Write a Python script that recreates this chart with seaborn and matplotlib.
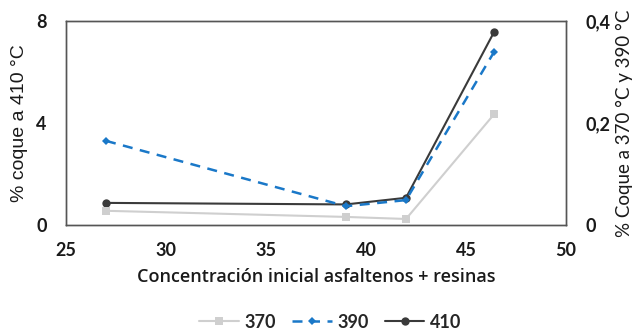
import matplotlib
matplotlib.use("Agg")
import matplotlib.pyplot as plt
import seaborn as sns
import pandas as pd
from matplotlib.ticker import FuncFormatter

sns.set_theme(style="white")
plt.rcParams["font.family"] = ["Lato", "DejaVu Sans"]

# Initial asphaltene + resin concentration
conc = [27, 39, 42, 46.4]
# Coke yield (%) per temperature
coke_370 = [0.028, 0.016, 0.012, 0.217]
coke_390 = [0.165, 0.037, 0.049, 0.339]
coke_410 = [0.87, 0.81, 1.07, 7.56]

left_ticks = [0, 4, 8]
right_ticks = [0, 0.2, 0.4]
x_ticks = [25, 30, 35, 40, 45, 50]

df370 = pd.DataFrame({"x": conc, "y": coke_370})
df390 = pd.DataFrame({"x": conc, "y": coke_390})
df410 = pd.DataFrame({"x": conc, "y": coke_410})

fig = plt.figure(figsize=(6.41, 3.32), dpi=100)
ax = fig.add_axes([0.103, 0.322, 0.780, 0.615])
ax2 = ax.twinx()

c370, c390, c410 = "#cfcfcf", "#1a78c8", "#3a3a3a"

sns.lineplot(data=df370, x="x", y="y", ax=ax2, color=c370, marker="s",
             markersize=6, markeredgewidth=0, linewidth=1.5, label="370")
sns.lineplot(data=df390, x="x", y="y", ax=ax2, color=c390, marker="D",
             markersize=4.5, markeredgewidth=0, linewidth=1.8,
             dashes=False, linestyle=(0, (4, 3)), label="390")
sns.lineplot(data=df410, x="x", y="y", ax=ax, color=c410, marker="o",
             markersize=6, markeredgewidth=0, linewidth=1.5, label="410")

ax.set_xlim(25, 50)
ax.set_ylim(0, 8)
ax2.set_ylim(0, 0.4)
ax.set_xticks(x_ticks)
ax.set_yticks(left_ticks)
ax2.set_yticks(right_ticks)
ax2.yaxis.set_major_formatter(FuncFormatter(
    lambda v, p: "0" if v == 0 else f"{v:.1f}".replace(".", ",")))

for a in (ax, ax2):
    a.tick_params(length=0, labelsize=13, colors="#1a1a1a")
    for s in a.spines.values():
        s.set_color("#555555")
        s.set_linewidth(1.0)
    a.grid(False)
for lab in ax.get_yticklabels() + ax2.get_yticklabels() + ax.get_xticklabels():
    lab.set_fontweight("bold")
ax.tick_params(axis="y", pad=14)
ax2.tick_params(axis="y", pad=14)
ax.tick_params(axis="x", pad=12)

ax.set_xlabel("Concentración inicial asfaltenos + resinas", fontsize=13,
              fontweight="semibold", family=["Open Sans", "DejaVu Sans"],
              color="#1a1a1a", labelpad=7)
ax.set_ylabel("% coque a 410 °C", fontsize=14, color="#1a1a1a",
              family=["Liberation Sans"], labelpad=6)
ax2.set_ylabel("% Coque a 370 °C y 390 °C", fontsize=13.5, color="#1a1a1a",
               labelpad=4)

ax.get_legend().remove() if ax.get_legend() else None
ax2.get_legend().remove() if ax2.get_legend() else None
h1, l1 = ax2.get_legend_handles_labels()
h2, l2 = ax.get_legend_handles_labels()
leg = fig.legend(h1 + h2, l1 + l2, loc="center", bbox_to_anchor=(0.515, 0.03),
                 ncol=3, frameon=False, fontsize=13, handlelength=2.2,
                 columnspacing=0.9, handletextpad=0.3)
for t in leg.get_texts():
    t.set_fontweight("bold")

fig.savefig("out.png", dpi=100)
